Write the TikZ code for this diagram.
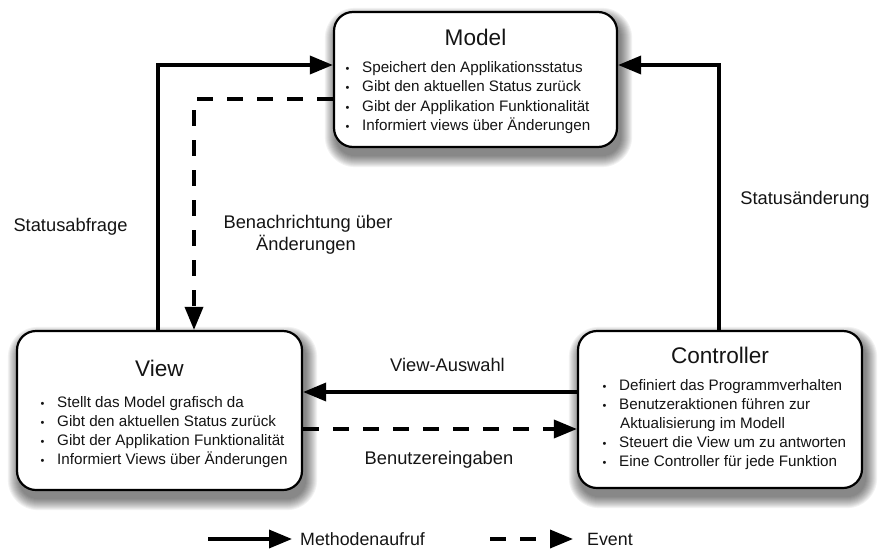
\documentclass[tikz,border=0pt]{standalone}
\usepackage{fontspec}
\setmainfont{Liberation Sans}
\usetikzlibrary{arrows.meta,calc,backgrounds}

\tikzset{
  x=1pt, y=-1pt,
  box/.style={draw=black, line width=2.2pt, rounded corners=19pt, fill=white, inner sep=0pt},
  boxtitle/.style={anchor=base, inner sep=0pt, text=black!92, font=\fontsize{22.6}{27}\selectfont},
  item/.style={anchor=base west, inner sep=0pt, text=black!92, font=\fontsize{15.2}{18}\selectfont},
  lbl/.style={anchor=base, inner sep=0pt, text=black!92, font=\fontsize{18.3}{22}\selectfont},
  call/.style={line width=3.5pt, -{Triangle[length=23pt,width=18pt]}},
  event/.style={call, dash pattern=on 16pt off 14pt},
}

% small bullet hung to the left of each list entry
\newcommand{\bul}{\llap{\makebox[16.5pt][l]{\fontsize{11}{11}\selectfont •}}}

% soft drop shadow under a node, built from stacked translucent rectangles
\newcommand{\softshadow}[1]{%
  \foreach \r in {0,...,11} {
    \fill[black, opacity=0.05, rounded corners=19pt+\r pt]
      ($(#1.north west)+(3-\r,8-\r)$) rectangle ($(#1.south east)+(3+\r,8+\r)$);
  }%
}

\begin{document}
\begin{tikzpicture}
\useasboundingbox (0,0) rectangle (880,549);

% ---- Model ----
\node[box, minimum width=283pt, minimum height=135pt] (model) at (475.5,79.5) {};
\node[boxtitle] (modelT) at (475.5,45) {Model};
\node[item] (m1) at (362,72.5) {\bul Speichert den Applikationsstatus};
\node[item] (m2) at (362,91.8) {\bul Gibt den aktuellen Status zurück};
\node[item] (m3) at (362,111) {\bul Gibt der Applikation Funktionalität};
\node[item] (m4) at (362,130.3) {\bul Informiert views über Änderungen};

% ---- View ----
\node[box, minimum width=285pt, minimum height=159pt] (view) at (159.5,410.5) {};
\node[boxtitle] (viewT) at (159.5,376.7) {View};
\node[item] (v1) at (57,407.3) {\bul Stellt das Model grafisch da};
\node[item] (v2) at (57,426.2) {\bul Gibt den aktuellen Status zurück};
\node[item] (v3) at (57,445.1) {\bul Gibt der Applikation Funktionalität};
\node[item] (v4) at (57,464) {\bul Informiert Views über Änderungen};

% ---- Controller ----
\node[box, minimum width=284pt, minimum height=157pt] (ctrl) at (720,409.5) {};
\node[boxtitle] (ctrlT) at (720,363) {Controller};
\node[item] (c1) at (619,390) {\bul Definiert das Programmverhalten};
\node[item] (c2) at (619,409) {\bul Benutzeraktionen führen zur};
\node[item] (c2b) at (620,428) {Aktualisierung im Modell};
\node[item] (c3) at (619,447) {\bul Steuert die View um zu antworten};
\node[item] (c4) at (619,466) {\bul Eine Controller für jede Funktion};

% ---- shadows behind the boxes ----
\begin{pgfonlayer}{background}
  \softshadow{model}
  \softshadow{view}
  \softshadow{ctrl}
\end{pgfonlayer}

% ---- connectors ----
\draw[call]  (view.north -| 158,0) |- (model.west |- 0,65);
\draw[event] (model.west |- 0,99) -| (view.north -| 194,0);
\draw[call]  (ctrl.north -| 719,0) |- (model.east |- 0,65);
\draw[call]  (ctrl.west |- 0,392) -- (view.east |- 0,392);
\draw[event] (view.east |- 0,429) -- (ctrl.west |- 0,429);

% ---- connector labels ----
\node[lbl] (lSa) at (70.5,231.5) {Statusabfrage};
\node[lbl] (lBn1) at (308,228.3) {Benachrichtung über};
\node[lbl] (lBn2) at (306,250) {Änderungen};
\node[lbl] (lSae) at (805,204.5) {Statusänderung};
\node[lbl] (lVa) at (447.5,371.5) {View-Auswahl};
\node[lbl] (lBe) at (439,464.5) {Benutzereingaben};

% ---- legend ----
\coordinate (legA) at (208,539);
\node[anchor=west, inner sep=0pt, inner xsep=8pt, text=black!92, font=\fontsize{17.8}{21}\selectfont] (legCall) at (292,539) {Methodenaufruf};
\draw[call] (legA) -- (legCall.west);
\coordinate (legB) at (490,539);
\node[anchor=west, inner sep=0pt, inner xsep=14pt, text=black!92, font=\fontsize{17.8}{21}\selectfont] (legEvent) at (573,539) {Event};
\draw[event] (legB) -- (legEvent.west);
\end{tikzpicture}
\end{document}
